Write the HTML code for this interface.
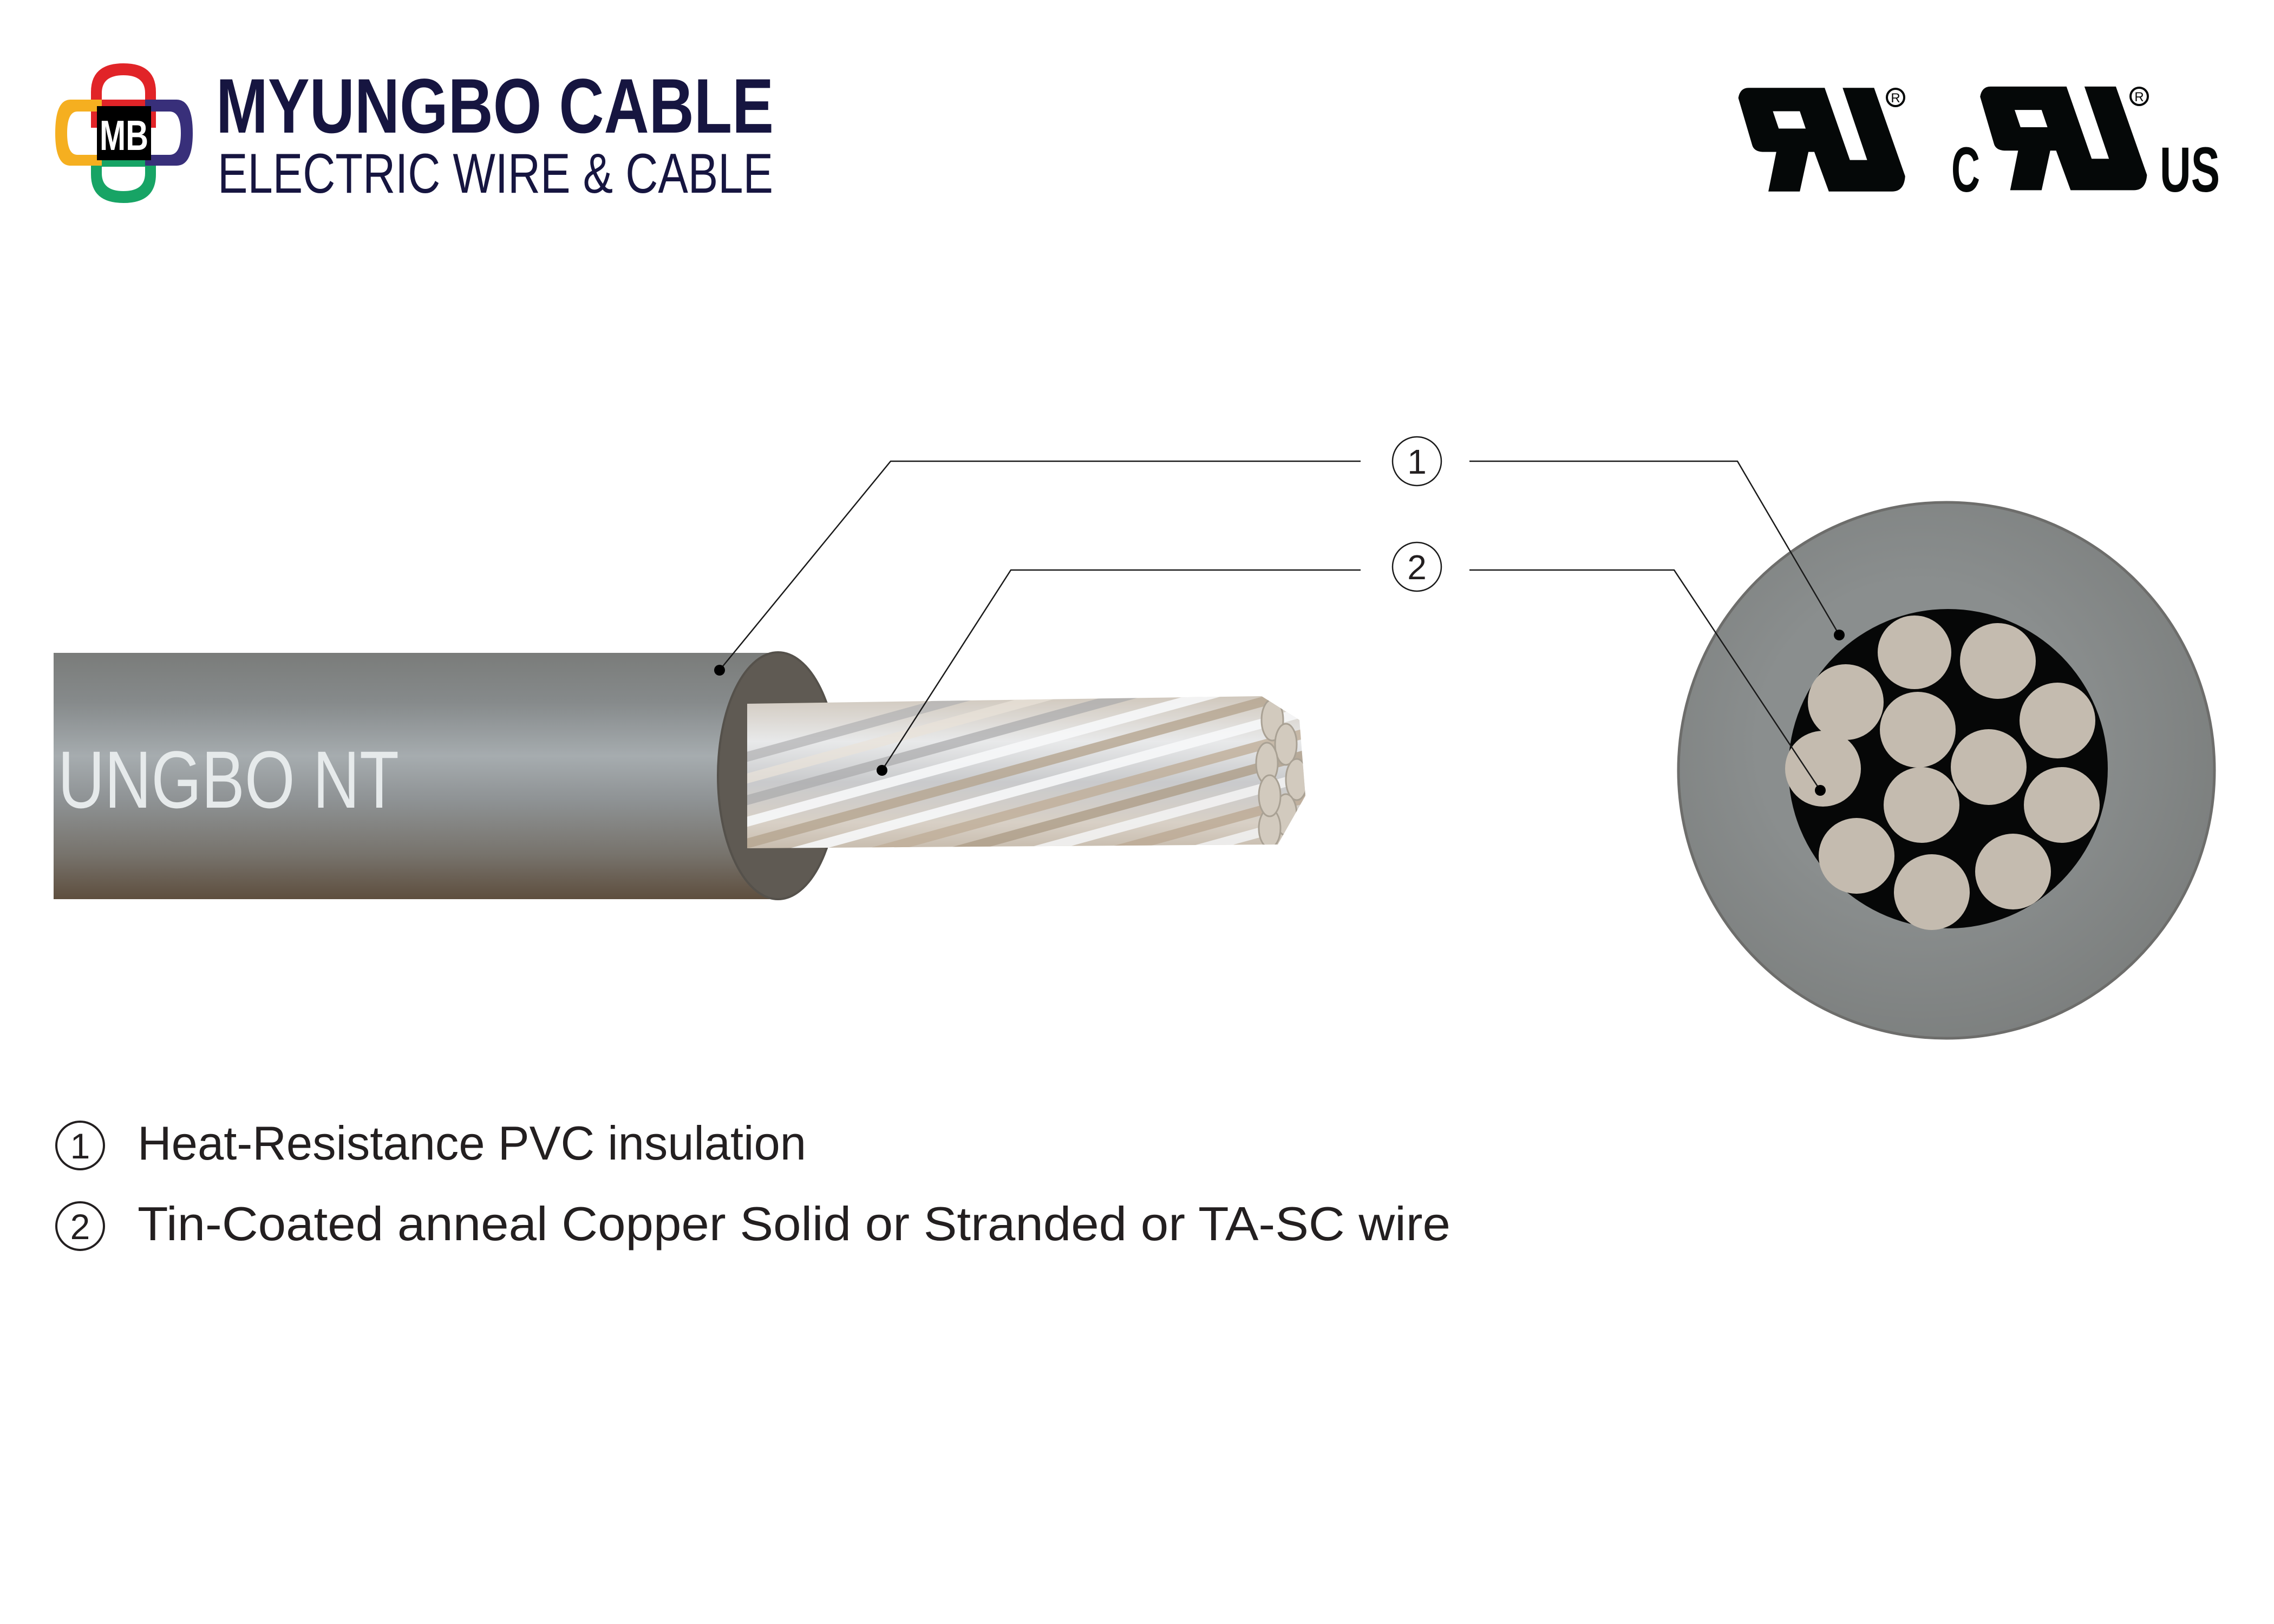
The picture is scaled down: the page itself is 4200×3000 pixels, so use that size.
<!DOCTYPE html>
<html><head><meta charset="utf-8"><style>
html,body{margin:0;padding:0;background:#fff;}
svg{display:block;}
</style></head><body>
<svg width="4200" height="3000" viewBox="0 0 4200 3000" xmlns="http://www.w3.org/2000/svg">
<defs>
<linearGradient id="body" x1="0" y1="0" x2="0" y2="1">
<stop offset="0" stop-color="#7a7c7a"/>
<stop offset="0.2" stop-color="#868a8b"/>
<stop offset="0.42" stop-color="#a6acaf"/>
<stop offset="0.6" stop-color="#8e9294"/>
<stop offset="0.82" stop-color="#77736c"/>
<stop offset="1" stop-color="#5e4e3e"/>
</linearGradient>
<linearGradient id="cond" x1="0" y1="0" x2="0" y2="1">
<stop offset="0" stop-color="#cfc6ba"/>
<stop offset="0.3" stop-color="#e8e9ea"/>
<stop offset="0.55" stop-color="#c9cacc"/>
<stop offset="0.8" stop-color="#d8d0c6"/>
<stop offset="1" stop-color="#c4b8a8"/>
</linearGradient>
<clipPath id="cc"><path d="M1380,1300 L2330,1286 L2400,1330 L2411,1470 L2360,1560 L1380,1567 Z"/></clipPath>
<radialGradient id="outer" cx="0.45" cy="0.45" r="0.6">
<stop offset="0.5" stop-color="#8a8e8e"/>
<stop offset="1" stop-color="#7b7e7d"/>
</radialGradient>
</defs>

<!-- Logo -->
<g>
<path d="M168,236 L168,170 Q168,117 228,117 Q288,117 288,170 L288,236 L268,236 L268,172 Q268,139 228,139 Q188,139 188,172 L188,236 Z" fill="#e12428"/>
<rect x="188" y="184" width="80" height="12" fill="#e12428"/>
<path d="M168,296 L168,322 Q168,375 228,375 Q288,375 288,322 L288,296 L268,296 L268,320 Q268,353 228,353 Q188,353 188,320 L188,296 Z" fill="#17a465"/>
<rect x="188" y="296" width="80" height="12" fill="#17a465"/>
<path d="M188,184 L130,184 Q102,184 102,246 Q102,306 130,306 L188,306 L188,286 L143,286 Q124,286 124,246 Q124,206 143,206 L188,206 Z" fill="#f5af20"/>
<path d="M268,184 L326,184 Q356,184 356,246 Q356,306 326,306 L268,306 L268,286 L313,286 Q334,286 334,246 Q334,206 313,206 L268,206 Z" fill="#382f7a"/>
<rect x="179" y="196" width="100" height="100" fill="#000"/>
<text x="229" y="277" font-family="Liberation Sans, sans-serif" font-weight="bold" font-size="78" fill="#fff" text-anchor="middle" textLength="90" lengthAdjust="spacingAndGlyphs">MB</text>
<text x="399" y="245" font-family="Liberation Sans, sans-serif" font-weight="bold" font-size="143" fill="#161540" textLength="1030" lengthAdjust="spacingAndGlyphs">MYUNGBO CABLE</text>
<text x="402" y="356" font-family="Liberation Sans, sans-serif" font-size="104" fill="#161540" textLength="1026" lengthAdjust="spacingAndGlyphs">ELECTRIC WIRE &amp; CABLE</text>
</g>

<!-- UL marks -->
<g transform="translate(3150,130) scale(0.638,0.34)" fill="#050808">
<path fill-rule="evenodd" d="M95,150 Q100,95 125,95 L345,95 L418,487 L468,487 L397,95 L488,95 L578,575 Q575,658 540,658 L357,658 L315,443 L298,443 L273,658 L182,658 L205,443 L165,443 Q140,440 135,405 Z M195,222 L273,222 L290,316 L212,316 Z"/>
<g transform="translate(700,-7)">
<path fill-rule="evenodd" d="M95,150 Q100,95 125,95 L345,95 L418,487 L468,487 L397,95 L488,95 L578,575 Q575,658 540,658 L357,658 L315,443 L298,443 L273,658 L182,658 L205,443 L165,443 Q140,440 135,405 Z M195,222 L273,222 L290,316 L212,316 Z"/>
</g>
</g>
<circle cx="3501" cy="180" r="16" fill="none" stroke="#050808" stroke-width="4"/>
<circle cx="3951" cy="178" r="16" fill="none" stroke="#050808" stroke-width="4"/>
<text x="3501" y="189" font-family="Liberation Sans, sans-serif" font-size="24" fill="#050808" text-anchor="middle">R</text>
<text x="3951" y="187" font-family="Liberation Sans, sans-serif" font-size="24" fill="#050808" text-anchor="middle">R</text>
<text x="3604" y="354" font-family="Liberation Sans, sans-serif" font-weight="bold" font-size="118" fill="#050808" textLength="53" lengthAdjust="spacingAndGlyphs">C</text>
<text x="3989" y="354" font-family="Liberation Sans, sans-serif" font-weight="bold" font-size="118" fill="#050808" textLength="111" lengthAdjust="spacingAndGlyphs">US</text>

<!-- Cable body -->
<rect x="99" y="1206" width="1340" height="455" fill="url(#body)"/>
<ellipse cx="1437" cy="1433" rx="111" ry="228" fill="#5f5a53"/>
<ellipse cx="1437" cy="1433" rx="111" ry="228" fill="none" stroke="#55514b" stroke-width="4"/>
<text x="107" y="1492" font-family="Liberation Sans, sans-serif" font-size="150" fill="#e6eaeb" textLength="630" lengthAdjust="spacingAndGlyphs">UNGBO NT</text>

<!-- Conductor -->
<g clip-path="url(#cc)">
<rect x="1370" y="1280" width="1050" height="300" fill="url(#cond)"/>
<g stroke-width="18" fill="none">
<path d="M1300,1580 L2500,1250" stroke="#b5a590" opacity="0.8"/>
<path d="M1300,1540 L2500,1210" stroke="#f6f7f8" opacity="0.9"/>
<path d="M1300,1500 L2500,1170" stroke="#a9a9ab" opacity="0.7"/>
<path d="M1300,1620 L2500,1290" stroke="#f6f7f8" opacity="0.9"/>
<path d="M1300,1660 L2500,1330" stroke="#bfae98" opacity="0.8"/>
<path d="M1300,1460 L2500,1130" stroke="#e9e2d8" opacity="0.7"/>
<path d="M1300,1700 L2500,1370" stroke="#ae9e88" opacity="0.8"/>
<path d="M1300,1740 L2500,1410" stroke="#f2f2f2" opacity="0.9"/>
<path d="M1300,1780 L2500,1450" stroke="#bba994" opacity="0.8"/>
<path d="M1300,1820 L2500,1490" stroke="#f0f0f0" opacity="0.9"/>
<path d="M1300,1860 L2500,1530" stroke="#bfae98" opacity="0.8"/>
<path d="M1300,1420 L2500,1090" stroke="#b0b0b2" opacity="0.7"/>
</g>
<g fill="#d2cabe" stroke="#a9a194" stroke-width="3">
<ellipse cx="2350" cy="1330" rx="20" ry="38"/>
<ellipse cx="2375" cy="1375" rx="20" ry="38"/>
<ellipse cx="2395" cy="1440" rx="20" ry="38"/>
<ellipse cx="2375" cy="1505" rx="20" ry="38"/>
<ellipse cx="2345" cy="1530" rx="20" ry="36"/>
<ellipse cx="2340" cy="1410" rx="20" ry="38"/>
<ellipse cx="2345" cy="1470" rx="20" ry="38"/>
</g>
</g>

<!-- Cross section -->
<circle cx="3595" cy="1423" r="495" fill="url(#outer)"/>
<circle cx="3595" cy="1423" r="495" fill="none" stroke="#6d6d6b" stroke-width="5"/>
<circle cx="3598" cy="1420" r="295" fill="#060707"/>
<g fill="#c4bbaf">
<circle cx="3536" cy="1205" r="68"/>
<circle cx="3690" cy="1221" r="70"/>
<circle cx="3409" cy="1297" r="70"/>
<circle cx="3800" cy="1331" r="70"/>
<circle cx="3542" cy="1348" r="70"/>
<circle cx="3673" cy="1417" r="70"/>
<circle cx="3367" cy="1420" r="70"/>
<circle cx="3808" cy="1487" r="70"/>
<circle cx="3549" cy="1487" r="70"/>
<circle cx="3429" cy="1581" r="70"/>
<circle cx="3718" cy="1610" r="70"/>
<circle cx="3568" cy="1648" r="70"/>
</g>

<!-- Leaders -->
<g stroke="#1a1a1a" stroke-width="2.5" fill="none">
<polyline points="2513,852 1645,852 1329,1238"/>
<polyline points="2714,852 3209,852 3397,1173"/>
<polyline points="2513,1053 1867,1053 1629,1423"/>
<polyline points="2714,1053 3092,1053 3362,1460"/>
<circle cx="2617" cy="852" r="45"/>
<circle cx="2617" cy="1047" r="45"/>
</g>
<g fill="#000">
<circle cx="1329" cy="1238" r="10"/>
<circle cx="3397" cy="1173" r="10"/>
<circle cx="1629" cy="1423" r="10"/>
<circle cx="3362" cy="1460" r="10"/>
</g>
<text x="2617" y="875" font-family="Liberation Sans, sans-serif" font-size="64" fill="#231f20" text-anchor="middle">1</text>
<text x="2617" y="1070" font-family="Liberation Sans, sans-serif" font-size="64" fill="#231f20" text-anchor="middle">2</text>

<!-- Legend -->
<g stroke="#231f20" stroke-width="4" fill="none">
<circle cx="148" cy="2116" r="44"/>
<circle cx="148" cy="2265" r="44"/>
</g>
<text x="148" y="2140" font-family="Liberation Sans, sans-serif" font-size="66" fill="#231f20" text-anchor="middle">1</text>
<text x="148" y="2289" font-family="Liberation Sans, sans-serif" font-size="66" fill="#231f20" text-anchor="middle">2</text>
<text x="254" y="2142" font-family="Liberation Sans, sans-serif" font-size="88" fill="#231f20" textLength="1235" lengthAdjust="spacingAndGlyphs">Heat-Resistance PVC insulation</text>
<text x="254" y="2291" font-family="Liberation Sans, sans-serif" font-size="88" fill="#231f20" textLength="2425" lengthAdjust="spacingAndGlyphs">Tin-Coated anneal Copper Solid or Stranded or TA-SC wire</text>
</svg>
</body></html>
